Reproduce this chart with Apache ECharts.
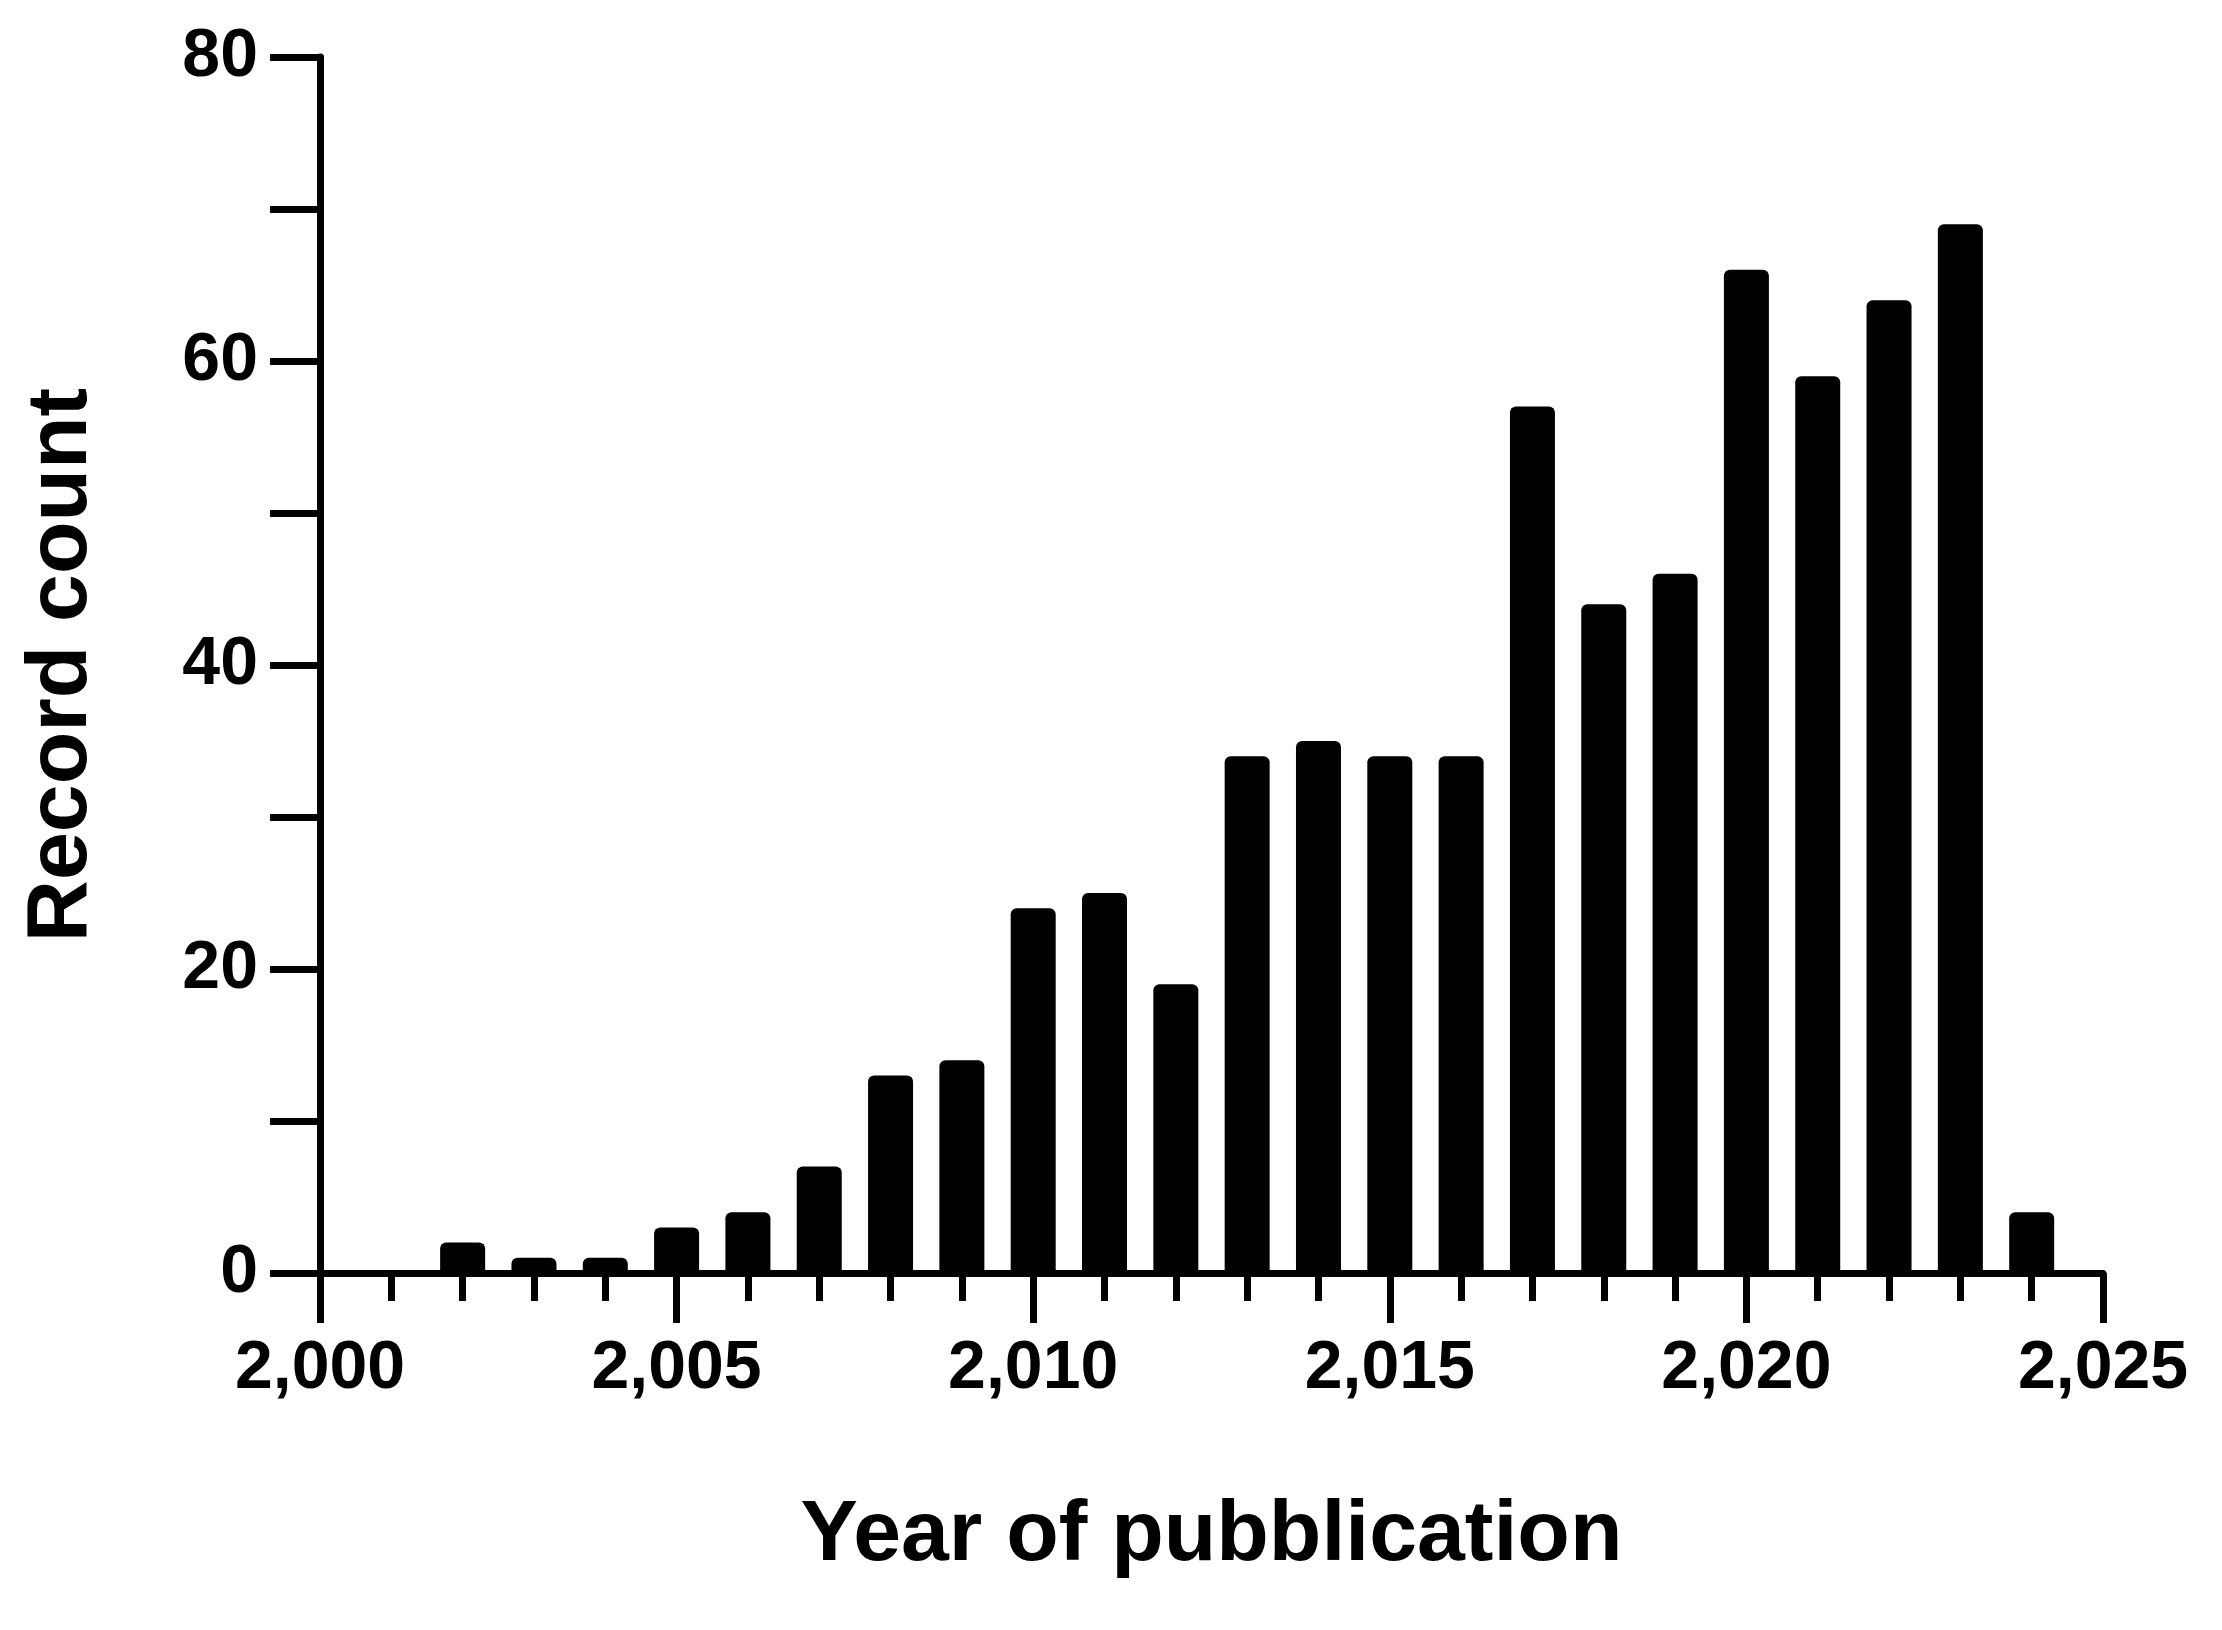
<!DOCTYPE html>
<html><head><meta charset="utf-8">
<script src="https://cdn.jsdelivr.net/npm/echarts@6/dist/echarts.min.js"></script>
<style>html,body{margin:0;background:#fff}#c{width:2222px;height:1630px}</style>
</head><body><div id="c"></div>
<script>
var years = [2002, 2003, 2004, 2005, 2006, 2007, 2008, 2009, 2010, 2011, 2012, 2013,
             2014, 2015, 2016, 2017, 2018, 2019, 2020, 2021, 2022, 2023, 2024];
var counts = [2, 1, 1, 3, 4, 7, 13, 14, 24, 25, 19, 34,
              35, 34, 34, 57, 44, 46, 66, 59, 64, 69, 4];

var font = 'Liberation Sans, Arial, sans-serif';
var axisLine = {show: true, lineStyle: {color: '#000', width: 7}};

var chart = echarts.init(document.getElementById('c'));
chart.setOption({
    animation: false,
    grid: {left: 320, right: 119, top: 57, bottom: 357},
    xAxis: {
        type: 'value', min: 2000, max: 2025, interval: 5,
        axisLine: axisLine,
        splitLine: {show: false},
        axisTick: {show: true, length: 50, lineStyle: {color: '#000', width: 7}},
        minorTick: {show: true, splitNumber: 5, length: 28, lineStyle: {color: '#000', width: 7}},
        axisLabel: {color: '#000', fontFamily: font, fontWeight: 'bold', fontSize: 68, margin: 62},
        name: 'Year of pubblication', nameLocation: 'middle', nameGap: 220,
        nameTextStyle: {color: '#000', fontFamily: font, fontWeight: 'bold', fontSize: 86}
    },
    yAxis: {
        type: 'value', min: 0, max: 80, interval: 10,
        axisLine: axisLine,
        splitLine: {show: false},
        axisTick: {show: true, length: 50, lineStyle: {color: '#000', width: 7}},
        axisLabel: {
            color: '#000', fontFamily: font, fontWeight: 'bold', fontSize: 68, margin: 62,
            formatter: function (v) { return v % 20 === 0 ? v : ''; }
        },
        name: 'Record count', nameLocation: 'middle', nameGap: 215,
        nameTextStyle: {color: '#000', fontFamily: font, fontWeight: 'bold', fontSize: 86}
    },
    series: [{
        type: 'bar',
        barWidth: 45,
        itemStyle: {color: '#000', borderRadius: [6, 6, 0, 0]},
        data: years.map(function (y, i) { return [y, counts[i]]; })
    }]
});
</script></body></html>
